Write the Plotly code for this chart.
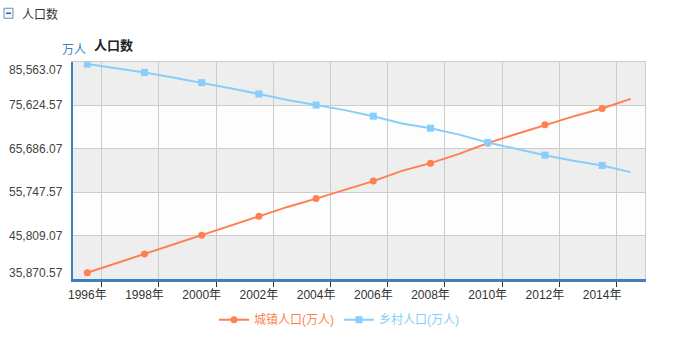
import plotly.graph_objects as go

years = list(range(1996, 2016))
urban = [37304, 39449, 41608, 43748, 45906, 48064, 50212, 52376, 54283, 56212,
         58288, 60633, 62403, 64512, 66978, 69079, 71182, 73111, 74916, 77116]
rural = [85085, 84177, 83153, 82038, 80837, 79563, 78241, 76851, 75705, 74544,
         73160, 71496, 70399, 68938, 67113, 65656, 64222, 62961, 61866, 60346]
y_ticks = [35870.57, 45809.07, 55747.57, 65686.07, 75624.57, 85563.07]
y_tick_text = ["35,870.57", "45,809.07", "55,747.57", "65,686.07", "75,624.57", "85,563.07"]
x_label_years = years[::2]
x_label_text = [f"{y}年" for y in x_label_years]
boundaries = [y + 0.5 for y in x_label_years]

ORANGE = "#ff7f50"
BLUE = "#87cefa"
AXIS_BLUE = "#3d80bd"
FONT = "Liberation Sans, Arial, Noto Sans CJK SC, sans-serif"

x_range = [years[0] - 0.5, years[-1] + 0.5]
y_range = [y_ticks[0], y_ticks[-1]]

def mcolors(c):
    return [c if (yr - years[0]) % 2 == 0 else "rgba(0,0,0,0)" for yr in years]

fig = go.Figure()
# invisible helper traces so the overlay axes are drawn
for ax_x, ax_y in (("x2", "y"), ("x3", "y"), ("x", "y2")):
    fig.add_trace(go.Scatter(x=years, y=urban, xaxis=ax_x, yaxis=ax_y, mode="lines",
                             line=dict(width=0, color="rgba(0,0,0,0)"), opacity=0,
                             showlegend=False, hoverinfo="skip"))
fig.add_trace(go.Scatter(
    x=years, y=urban, mode="lines+markers",
    name=f"<span style='color:{ORANGE}'>城镇人口(万人)</span>",
    line=dict(color=ORANGE, width=2),
    marker=dict(symbol="circle", size=7, color=mcolors(ORANGE)),
))
fig.add_trace(go.Scatter(
    x=years, y=rural, mode="lines+markers",
    name=f"<span style='color:{BLUE}'>乡村人口(万人)</span>",
    line=dict(color=BLUE, width=2),
    marker=dict(symbol="square", size=7, color=mcolors(BLUE)),
))

# alternating background bands
shapes = []
for i in range(len(y_ticks) - 1):
    top_index = len(y_ticks) - 2 - i
    if i % 2 == 0:
        shapes.append(dict(type="rect", xref="x", yref="y",
                           x0=x_range[0], x1=x_range[1],
                           y0=y_ticks[top_index], y1=y_ticks[top_index + 1],
                           fillcolor="#eeeeee", line=dict(width=0), layer="below"))
# header icon
shapes.append(dict(type="rect", xref="paper", yref="paper",
                   x0=-0.1206, x1=-0.1049, y0=1.2014, y1=1.2477,
                   line=dict(color="#6d8fb3", width=1), fillcolor="#f4f8fc"))
shapes.append(dict(type="line", xref="paper", yref="paper",
                   x0=-0.1171, x1=-0.1084, y0=1.2245, y1=1.2245,
                   line=dict(color="#2c5d92", width=1.5)))

annotations = []
for i, (v, t) in enumerate(zip(y_ticks, y_tick_text)):
    ys = 0
    if i == 0:
        ys = 6
    elif i == len(y_ticks) - 1:
        ys = -8
    annotations.append(dict(x=0, xref="paper", y=v, yref="y", text=t,
                            xanchor="right", yanchor="middle", xshift=-8, yshift=ys,
                            showarrow=False, font=dict(size=12, color="#444", family=FONT)))
annotations.append(dict(x=-0.0927, xref="paper", y=1.22, yref="paper", text="人口数",
                        xanchor="left", yanchor="middle", showarrow=False,
                        font=dict(size=12, color="#333", family=FONT)))
annotations.append(dict(x=-0.023, xref="paper", y=1.056, yref="paper", text="万人",
                        xanchor="left", yanchor="middle", showarrow=False,
                        font=dict(size=12, color=AXIS_BLUE, family=FONT)))
annotations.append(dict(x=0.033, xref="paper", y=1.076, yref="paper", text="<b>人口数</b>",
                        xanchor="left", yanchor="middle", showarrow=False,
                        font=dict(size=13, color="#222", family=FONT)))

fig.update_layout(
    width=673, height=341,
    margin=dict(l=73, r=28, t=62, b=62, autoexpand=False),
    paper_bgcolor="white", plot_bgcolor="#fdfdfd",
    font=dict(family=FONT, size=12, color="#333"),
    shapes=shapes, annotations=annotations,
    showlegend=True,
    legend=dict(orientation="h", x=0.465, xanchor="center",
                y=-0.188, yanchor="middle",
                font=dict(size=12, family=FONT), itemwidth=30, tracegroupgap=0,
                bgcolor="rgba(0,0,0,0)"),
    xaxis=dict(range=x_range, tickmode="array", tickvals=boundaries, showticklabels=False,
               ticks="outside", ticklen=5, tickcolor="#333", tickwidth=1,
               showgrid=True, gridcolor="#cccccc", gridwidth=1,
               showline=True, linecolor=AXIS_BLUE, linewidth=3, zeroline=False),
    xaxis2=dict(range=x_range, overlaying="x", anchor="y", side="bottom",
                tickmode="array", tickvals=x_label_years, ticktext=x_label_text,
                ticks="", ticklabelstandoff=7, showgrid=False, showline=False, zeroline=False,
                tickfont=dict(size=12, color="#333", family=FONT)),
    xaxis3=dict(range=x_range, overlaying="x", anchor="y", side="top",
                showticklabels=False, ticks="", showgrid=False, zeroline=False,
                showline=True, linecolor="#cccccc", linewidth=1),
    yaxis=dict(range=y_range, tickmode="array", tickvals=y_ticks, showticklabels=False,
               ticks="", showgrid=True, gridcolor="#cccccc", gridwidth=1,
               showline=True, linecolor=AXIS_BLUE, linewidth=2, zeroline=False),
    yaxis2=dict(range=y_range, overlaying="y", anchor="x", side="right",
                showticklabels=False, ticks="", showgrid=False, zeroline=False,
                showline=True, linecolor="#cccccc", linewidth=1),
)

fig.write_html("out.html")
